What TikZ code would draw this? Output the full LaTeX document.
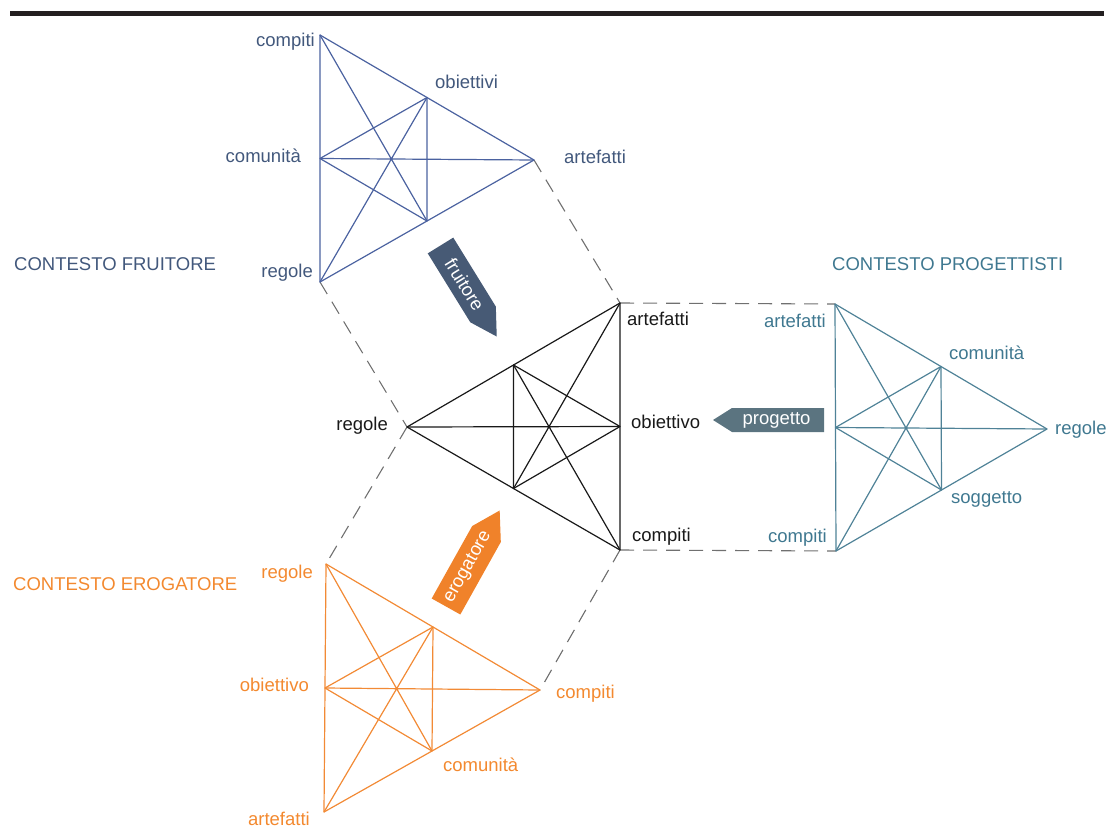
\documentclass[tikz,border=0pt]{standalone}
\usepackage{fontspec}
\setmainfont{Liberation Sans}
\usetikzlibrary{calc}

\definecolor{fruiline}{HTML}{4B62A0}
\definecolor{fruitext}{HTML}{42587C}
\definecolor{fruiarrow}{HTML}{475A75}
\definecolor{progline}{HTML}{4F8297}
\definecolor{progtext}{HTML}{3F7890}
\definecolor{progarrow}{HTML}{5B7480}
\definecolor{erogline}{HTML}{F28A35}
\definecolor{erogtext}{HTML}{F3892F}
\definecolor{erogarrow}{HTML}{F0822A}
\definecolor{dashgray}{HTML}{707070}
\definecolor{barblack}{HTML}{231F20}

% Triangle with its medians and its medial triangle.
% #1,#2,#3: vertex names; #4: line style
\newcommand{\starframe}[4]{%
  \coordinate (#1m) at ($(#2)!0.5!(#3)$);
  \coordinate (#2m) at ($(#1)!0.5!(#3)$);
  \coordinate (#3m) at ($(#1)!0.5!(#2)$);
  \draw[#4] (#1) -- (#2) -- (#3) -- cycle;
  \draw[#4] (#1m) -- (#2m) -- (#3m) -- cycle;
  \draw[#4] (#1) -- (#1m) (#2) -- (#2m) (#3) -- (#3m);
}

\tikzset{
  tri/.style={line width=1.2pt, line join=round},
  link/.style={draw=dashgray, line width=1.1pt, dash pattern=on 14pt off 9pt},
  lbl/.style={inner sep=0pt},
  arrowtext/.style={inner sep=0pt, text=white},
}

\begin{document}
\begin{tikzpicture}[x=1pt, y=-1pt, font=\fontsize{18.5}{22}\selectfont]
\useasboundingbox (0,0) rectangle (1108,827);

% rule across the top
\fill[barblack] (10,11) rectangle (1104,16);

% vertices
\coordinate (B1) at (320,35);   % compiti
\coordinate (B2) at (320,282);  % regole
\coordinate (B3) at (534,160);  % artefatti
\coordinate (K1) at (620,303);  % artefatti
\coordinate (K2) at (620,550);  % compiti
\coordinate (K3) at (407,427);  % regole
\coordinate (T1) at (835,304);  % artefatti
\coordinate (T2) at (836,551);  % compiti
\coordinate (T3) at (1047,429); % regole
\coordinate (O1) at (326,564);  % regole
\coordinate (O2) at (324,812);  % artefatti
\coordinate (O3) at (540,690);  % compiti

% dashed links between the contexts
\draw[link] (B3) -- (K1);
\draw[link] (B2) -- (K3);
\draw[link] (K3) -- (O1);
\draw[link] (K2) -- (O3);
\draw[link] (K1) -- (T1);
\draw[link] (K2) -- (T2);

% the four triangles
\starframe{B1}{B2}{B3}{tri, draw=fruiline}
\starframe{K1}{K2}{K3}{tri, draw=black!90}
\starframe{T1}{T2}{T3}{tri, draw=progline}
\starframe{O1}{O2}{O3}{tri, draw=erogline}

% headings
\node[lbl, text=fruitext, anchor=base west] (hfru) at (14,270) {CONTESTO FRUITORE};
\node[lbl, text=progtext, anchor=base west] (hprog) at (832,270) {CONTESTO PROGETTISTI};
\node[lbl, text=erogtext, anchor=base west] (hero) at (13,590) {CONTESTO EROGATORE};

% labels: fruitore
\begin{scope}[every node/.append style={lbl, text=fruitext}]
\node[anchor=base east] (b-compiti) at (315,46.7) {compiti};
\node[anchor=base west] (b-obiettivi) at (435,88) {obiettivi};
\node[anchor=base east] (b-comunita) at (301,162.7) {comunità};
\node[anchor=base west] (b-artefatti) at (564,163) {artefatti};
\node[anchor=base east] (b-regole) at (313,277.7) {regole};
\end{scope}

% labels: centre
\begin{scope}[every node/.append style={lbl, text=black!90}]
\node[anchor=base west] (k-artefatti) at (627,325.7) {artefatti};
\node[anchor=base west] (k-obiettivo) at (631,428) {obiettivo};
\node[anchor=base west] (k-compiti) at (632,541.7) {compiti};
\node[anchor=base east] (k-regole) at (388,430) {regole};
\end{scope}

% labels: progettisti
\begin{scope}[every node/.append style={lbl, text=progtext}]
\node[anchor=base east] (t-artefatti) at (826,327) {artefatti};
\node[anchor=base west] (t-comunita) at (949,359) {comunità};
\node[anchor=base west] (t-regole) at (1055,434) {regole};
\node[anchor=base west] (t-soggetto) at (951,503) {soggetto};
\node[anchor=base east] (t-compiti) at (827,542) {compiti};
\end{scope}

% labels: erogatore
\begin{scope}[every node/.append style={lbl, text=erogtext}]
\node[anchor=base east] (o-regole) at (313,578) {regole};
\node[anchor=base east] (o-obiettivo) at (309,691.7) {obiettivo};
\node[anchor=base west] (o-compiti) at (556,698) {compiti};
\node[anchor=base west] (o-comunita) at (443,771) {comunità};
\node[anchor=base east] (o-artefatti) at (310,825) {artefatti};
\end{scope}

% arrow: fruitore
\begin{scope}[shift={(440.5,245.5)}, rotate=-58.3]
  \fill[fruiarrow] (0,-15) -- (81,-15) -- (107,0) -- (81,15) -- (0,15) -- cycle;
  \node[arrowtext, rotate=-58.3] (a-fruitore) at (46,0) {fruitore};
\end{scope}

% arrow: erogatore
\begin{scope}[shift={(446,606.5)}, rotate=60.8]
  \fill[erogarrow] (0,-16.4) -- (83,-16.4) -- (110,0) -- (83,16.4) -- (0,16.4) -- cycle;
  \node[arrowtext, rotate=60.8] (a-erogatore) at (45,0) {erogatore};
\end{scope}

% arrow: progetto
\fill[progarrow] (824,408) -- (732,408) -- (713,420) -- (732,432) -- (824,432) -- cycle;
\node[arrowtext] (a-progetto) at (776.5,420) {progetto};

\end{tikzpicture}
\end{document}
